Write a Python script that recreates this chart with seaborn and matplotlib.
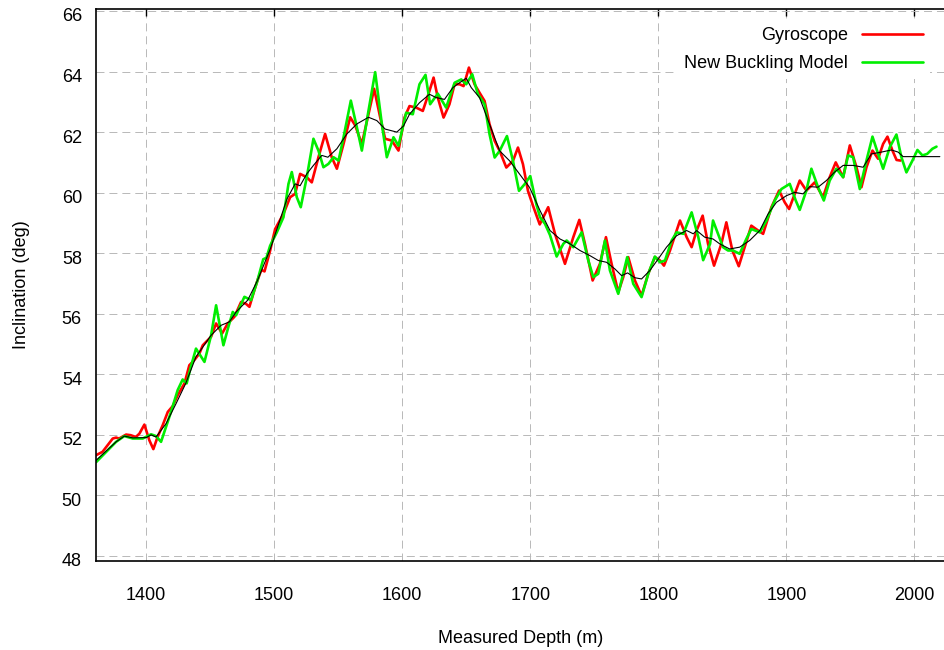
import matplotlib
matplotlib.use("Agg")
import matplotlib.pyplot as plt
import matplotlib.transforms as mtransforms
import seaborn as sns

# Gyroscope survey (red)
gyro_md = [1361, 1366, 1374, 1376.6, 1379, 1384.4, 1388, 1392, 1394.8, 1398.7,
           1402.6, 1405.7, 1409, 1413, 1417, 1420.8, 1424.7, 1430, 1433.8, 1437.7,
           1441.7, 1444.3, 1450.8, 1454.7, 1459.4, 1463.8, 1469, 1474.2, 1478, 1480.7,
           1484.6, 1487, 1490, 1492.5, 1496.9, 1500.8, 1507.3, 1512.5, 1516.4, 1520.3,
           1525.5, 1529.4, 1534.6, 1539.8, 1545, 1549, 1554.2, 1559.4, 1563.3, 1568.5,
           1573.7, 1578.1, 1582.8, 1586.7, 1591.9, 1597.1, 1601.8, 1605.7, 1610.9, 1616.1,
           1621.3, 1624.5, 1627.8, 1632.3, 1636.9, 1640.9, 1644.8, 1647.9, 1652.1, 1656.5,
           1660.4, 1664.3, 1668.2, 1672.2, 1676.1, 1681.3, 1686.5, 1690.4, 1694.3, 1698.2,
           1702.2, 1707.4, 1714, 1719.3, 1727.1, 1733.6, 1738.3, 1742.7, 1748.7, 1754.4,
           1759.1, 1763.5, 1768.7, 1772.6, 1776.5, 1781.7, 1786.9, 1792.1, 1797.3, 1801.3,
           1804.4, 1809.1, 1816.9, 1822.1, 1826, 1829.9, 1834.6, 1838.8, 1843.5, 1849.2,
           1853.1, 1857.8, 1862.8, 1867.4, 1872.6, 1877.9, 1881.8, 1888.3, 1894.3, 1898.7,
           1902.1, 1906.5, 1910.4, 1915.6, 1922.1, 1928.6, 1933.8, 1938.5, 1944.3, 1949.5,
           1954.7, 1958.6, 1962.5, 1967.2, 1971.6, 1975.5, 1978.9, 1982.8, 1986, 1989.1]
gyro_inc = [51.33, 51.44, 51.88, 51.91, 51.88, 52.01, 51.99, 51.93, 52.04, 52.34,
            51.82, 51.53, 51.93, 52.32, 52.76, 52.95, 53.31, 53.7, 54.3, 54.47,
            54.69, 54.96, 55.24, 55.68, 55.35, 55.68, 55.9, 56.39, 56.33, 56.23,
            56.78, 57.1, 57.45, 57.4, 58.09, 58.8, 59.3, 59.85, 59.96, 60.62,
            60.51, 60.34, 61.17, 61.94, 61.17, 60.79, 61.61, 62.49, 62.22, 61.61,
            62.6, 63.43, 62.49, 61.78, 61.72, 61.39, 62.48, 62.86, 62.81, 62.7,
            63.36, 63.8, 63.14, 62.48, 62.92, 63.58, 63.58, 63.52, 64.13, 63.58,
            63.3, 63.03, 62.26, 61.71, 61.38, 60.83, 61.05, 61.49, 60.94, 60.06,
            59.56, 58.95, 59.52, 58.64, 57.65, 58.53, 59.1, 58.31, 57.1, 57.65,
            58.53, 57.65, 56.71, 57.21, 57.87, 57.1, 56.6, 57.32, 57.87, 57.76,
            57.59, 58.09, 59.08, 58.53, 58.2, 58.75, 59.24, 58.31, 57.59, 58.31,
            59.02, 58.09, 57.57, 58.2, 58.91, 58.75, 58.64, 59.52, 60.07, 59.68,
            59.46, 59.96, 60.4, 60.07, 60.34, 59.85, 60.51, 61.0, 60.51, 61.56,
            60.84, 60.18, 60.84, 61.39, 61.12, 61.61, 61.85, 61.39, 61.08, 61.06]

# New Buckling Model (green)
model_md = [1361, 1371.4, 1376.6, 1383, 1389.6, 1397.4, 1403.9, 1407.8, 1411.7, 1414.3,
            1419.5, 1424.7, 1428.6, 1431.7, 1435, 1439, 1445.6, 1450.8, 1454.7, 1460.4,
            1464.3, 1467.7, 1470.3, 1476.8, 1482, 1487, 1491.5, 1494, 1496.9, 1502.1,
            1507.3, 1511.2, 1513.8, 1517.7, 1520.8, 1525.5, 1530.7, 1534.6, 1538.5, 1542.4,
            1546.4, 1550.3, 1554.2, 1559.9, 1564.6, 1568.5, 1573.7, 1578.9, 1584.1, 1588,
            1593.2, 1597.1, 1603.1, 1608.3, 1613.5, 1618.2, 1621.8, 1627.8, 1634.3, 1640.9,
            1646.1, 1650, 1654.7, 1659.1, 1664.3, 1668.2, 1672.2, 1676.1, 1681.8, 1686.5,
            1691.2, 1695.6, 1700, 1704.8, 1707.6, 1711.5, 1715.4, 1720.6, 1725.8, 1728.4,
            1733.6, 1740.1, 1745.3, 1749.2, 1753.1, 1758.3, 1762.2, 1768.7, 1775.7, 1780.4,
            1786.9, 1792.1, 1797.3, 1801.3, 1805.2, 1810.4, 1814.3, 1819.5, 1826, 1831.2,
            1835, 1840.4, 1842.7, 1850.5, 1854.4, 1858.3, 1863.5, 1868.7, 1872.6, 1879.2,
            1884.4, 1890.9, 1896.1, 1902.6, 1907.3, 1910.4, 1915.6, 1919.5, 1924.7, 1929.2,
            1933.8, 1939, 1944.3, 1948.2, 1952.1, 1957.3, 1962.5, 1967.2, 1971.6, 1975.5,
            1980.7, 1985.9, 1989.8, 1993.7, 1998.4, 2002.3, 2006.2, 2009.9, 2014, 2017.2]
model_inc = [51.1, 51.55, 51.77, 51.96, 51.88, 51.88, 52.02, 51.96, 51.77, 52.1,
             52.76, 53.48, 53.83, 53.7, 54.25, 54.85, 54.41, 55.29, 56.28, 54.96,
             55.57, 56.06, 55.95, 56.56, 56.45, 57.1, 57.8, 57.85, 58.25, 58.69,
             59.19, 60.29, 60.68, 59.85, 59.52, 60.51, 61.78, 61.39, 60.84, 60.95,
             61.17, 61.06, 61.83, 63.04, 62.16, 61.39, 62.71, 63.98, 62.27, 61.17,
             61.83, 61.55, 62.64, 62.59, 63.58, 63.89, 62.92, 63.27, 62.81, 63.63,
             63.74, 63.58, 63.91, 63.25, 62.92, 61.93, 61.16, 61.38, 61.87, 61.05,
             60.06, 60.28, 60.55, 59.61, 59.19, 58.97, 58.6, 57.89, 58.31, 58.42,
             58.2, 58.69, 57.76, 57.21, 57.32, 58.42, 57.43, 56.66, 57.87, 56.99,
             56.55, 57.32, 57.89, 57.7, 57.76, 58.42, 58.69, 58.64, 59.35, 58.53,
             57.77, 58.31, 59.08, 58.2, 58.09, 58.09, 57.98, 58.47, 58.8, 58.69,
             59.08, 59.74, 60.12, 60.29, 59.74, 59.43, 60.07, 60.79, 60.18, 59.74,
             60.4, 60.79, 60.51, 61.23, 61.17, 60.12, 61.06, 61.85, 61.28, 60.79,
             61.5, 61.92, 61.17, 60.67, 61.06, 61.41, 61.23, 61.28, 61.45, 61.52]

# thin black trend line (no legend entry)
trend_md = [1361, 1376.6, 1383, 1389.6, 1400, 1404, 1407.8, 1415.6, 1423.4, 1431,
            1439, 1450.8, 1458.6, 1465, 1470.3, 1479.4, 1487, 1497, 1510, 1516.4,
            1520.3, 1525.5, 1530.7, 1537.2, 1542, 1549, 1556.8, 1564.6, 1573.7, 1580.2,
            1586.7, 1595.8, 1601, 1605.7, 1613.5, 1621.3, 1626.5, 1633, 1639.6, 1644.8,
            1650, 1653.9, 1660.4, 1668.2, 1676.1, 1683.9, 1691.7, 1699.5, 1707.6, 1715.4,
            1723.2, 1731, 1738.8, 1746.6, 1753.1, 1759.6, 1766.1, 1771.3, 1776, 1781.7,
            1786.9, 1793.4, 1799.9, 1806.4, 1814.3, 1822.1, 1827.3, 1829.9, 1836.2, 1842.7,
            1847.9, 1855.7, 1863.5, 1871.3, 1879.2, 1885.7, 1892.2, 1900, 1906.5, 1913,
            1918.2, 1924.7, 1931.2, 1937.7, 1944.3, 1952.1, 1959.9, 1966.4, 1974.2, 1982,
            1987.2, 1991.1, 2019.8]
trend_inc = [51.16, 51.77, 51.96, 51.9, 51.91, 52.0, 51.93, 52.37, 53.03, 53.7,
             54.58, 55.29, 55.62, 55.73, 56.06, 56.45, 57.1, 58.14, 59.79, 60.29,
             60.23, 60.62, 60.9, 61.23, 61.17, 61.45, 61.94, 62.27, 62.49, 62.38,
             62.1, 62.0, 62.2, 62.59, 62.97, 63.25, 63.14, 63.08, 63.47, 63.63,
             63.78, 63.47, 63.14, 62.26, 61.38, 61.05, 60.61, 60.17, 59.41, 58.75,
             58.47, 58.31, 58.09, 57.92, 57.76, 57.7, 57.48, 57.26, 57.35, 57.19,
             57.15, 57.43, 57.81, 58.2, 58.58, 58.75, 58.64, 58.75, 58.53, 58.47,
             58.31, 58.14, 58.2, 58.42, 58.75, 59.3, 59.68, 59.9, 60.01, 59.96,
             60.2, 60.18, 60.4, 60.68, 60.9, 60.9, 60.84, 61.28, 61.34, 61.41,
             61.34, 61.19, 61.19]

x_ticks = [1400, 1500, 1600, 1700, 1800, 1900, 2000]
y_ticks = [48, 50, 52, 54, 56, 58, 60, 62, 64, 66]

sns.set_style("white")
plt.rcParams['font.family'] = ['Liberation Sans', 'DejaVu Sans']
plt.rcParams['text.color'] = 'black'
plt.rcParams['axes.labelcolor'] = 'black'
plt.rcParams['xtick.color'] = 'black'
plt.rcParams['ytick.color'] = 'black'

fig = plt.figure(figsize=(9.45, 6.5), dpi=100)
ax = fig.add_axes([0.1021, 0.1374, 0.898, 0.8483])

line_kw = dict(estimator=None, solid_joinstyle='round', solid_capstyle='round')
sns.lineplot(x=gyro_md, y=gyro_inc, ax=ax, color='#ff0000', linewidth=1.9,
             label='Gyroscope', **line_kw)
sns.lineplot(x=model_md, y=model_inc, ax=ax, color='#00ee00', linewidth=1.9,
             label='New Buckling Model', **line_kw)
sns.lineplot(x=trend_md, y=trend_inc, ax=ax, color='black', linewidth=0.8,
             **line_kw)

ax.set_xlim(1361.3, 2023.9)
ax.set_ylim(47.845, 66.056)
ax.set_xticks(x_ticks)
ax.set_yticks(y_ticks)

ax.grid(True, color='#b8b8b8', linewidth=0.7, linestyle=(0, (8.2, 5.1)))
ax.set_axisbelow(True)

for side in ['left', 'bottom', 'top']:
    ax.spines[side].set_color('black')
    ax.spines[side].set_linewidth(1.2)
ax.spines['right'].set_visible(False)

ax.tick_params(axis='both', direction='in', length=5, width=1, colors='black',
               labelcolor='black', labelsize=13, top=True, right=False)
ax.tick_params(axis='x', pad=19)
ax.tick_params(axis='y', pad=10.5)

# gnuplot puts the y labels a few pixels under their ticks
shift = mtransforms.ScaledTranslation(0, -0.04, fig.dpi_scale_trans)
for lab in ax.get_yticklabels():
    lab.set_transform(lab.get_transform() + shift)

ax.set_xlabel('Measured Depth (m)', fontsize=13, color='black')
ax.set_ylabel('Inclination (deg)', fontsize=13, color='black')
ax.xaxis.set_label_coords(0.5, -0.1255)
ax.yaxis.set_label_coords(-0.078, 0.5)

handles, labels = ax.get_legend_handles_labels()
leg = ax.legend(handles[:2], labels[:2], loc='upper right',
                bbox_to_anchor=(0.982, 0.9806), markerfirst=False,
                fontsize=13, handlelength=3.38, handletextpad=0.75,
                labelspacing=0.6, borderpad=0.4, borderaxespad=0,
                frameon=True, facecolor='white', edgecolor='none', framealpha=1,
                fancybox=False, labelcolor='black')

fig.savefig('out.png', dpi=100)
